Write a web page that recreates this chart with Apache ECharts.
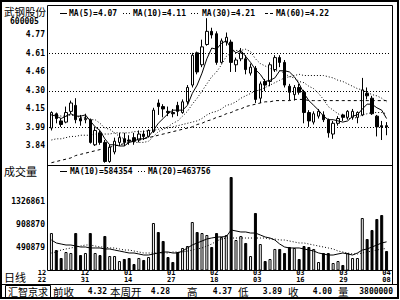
<!DOCTYPE html>
<html><head><meta charset="utf-8">
<script src="https://cdn.jsdelivr.net/npm/echarts@6/dist/echarts.min.js"></script>
<style>html,body{margin:0;padding:0;background:#fff}#c{width:400px;height:300px}</style>
</head><body><div id="c"></div>
<script>
const stockName = '武钢股份';
const stockCode = '600005';
const dateLabels = ['12\n22','12\n31','01\n14','01\n27','02\n18','03\n03','03\n16','03\n29','04\n08'];
const priceTicks = ['3.84','3.99','4.15','4.30','4.46','4.61','4.77'];
const priceGridTicks = [1, 3, 5];
const volTicks = ['490879','908870','1326861'];

const opens  = [3.99,4.11,4.05,4.04,4.13,4.18,4.07,4.06,4.06,3.85,3.95,3.87,3.71,3.79,3.87,3.90,3.89,3.91,3.89,3.94,3.92,3.96,4.20,4.17,4.13,4.12,4.18,4.12,4.21,4.35,4.62,4.52,4.69,4.80,4.78,4.54,4.71,4.71,4.52,4.57,4.57,4.45,4.49,4.24,4.38,4.38,4.48,4.58,4.54,4.34,4.27,4.33,4.29,4.12,4.04,4.09,4.10,4.06,3.94,4.03,4.10,4.08,4.08,4.08,4.10,4.28,4.24,4.09,4.01,4.01];
const closes = [4.12,4.07,4.02,4.12,4.20,4.06,4.05,4.07,3.87,3.97,3.87,3.71,3.83,3.88,3.91,3.87,3.88,3.88,3.94,3.92,3.97,4.14,4.17,4.15,4.12,4.11,4.13,4.21,4.33,4.60,4.46,4.67,4.80,4.77,4.54,4.72,4.75,4.54,4.56,4.62,4.48,4.50,4.23,4.36,4.35,4.52,4.58,4.54,4.35,4.29,4.33,4.29,4.12,4.05,4.11,4.13,4.06,3.95,4.03,4.07,4.08,4.13,4.13,4.12,4.31,4.26,4.11,4.00,4.00,4.00];
const highs  = [4.13,4.12,4.07,4.17,4.22,4.24,4.10,4.11,4.07,3.99,3.97,3.89,3.85,3.91,3.95,3.95,3.93,3.95,3.97,3.97,3.98,4.16,4.23,4.19,4.17,4.15,4.21,4.23,4.35,4.62,4.63,4.73,4.91,4.83,4.80,4.74,4.79,4.73,4.58,4.66,4.60,4.53,4.51,4.38,4.40,4.54,4.60,4.60,4.56,4.36,4.35,4.36,4.31,4.14,4.13,4.15,4.13,4.07,4.05,4.09,4.11,4.14,4.15,4.13,4.41,4.33,4.26,4.10,4.05,4.04];
const lows   = [3.97,4.03,4.00,4.03,4.11,4.03,4.01,4.03,3.86,3.84,3.85,3.70,3.70,3.77,3.84,3.84,3.85,3.85,3.87,3.89,3.91,3.95,4.10,4.08,4.09,4.08,4.09,4.11,4.19,4.33,4.44,4.50,4.68,4.74,4.52,4.53,4.68,4.46,4.46,4.55,4.44,4.43,4.20,4.20,4.30,4.34,4.46,4.50,4.33,4.22,4.22,4.27,4.03,4.00,4.02,4.07,4.04,3.91,3.90,4.01,4.05,4.06,4.06,4.03,4.09,4.23,4.10,3.92,3.89,3.93];

const ma5  = [4.10,4.09,4.07,4.09,4.11,4.09,4.09,4.10,4.05,4.00,3.97,3.90,3.85,3.85,3.84,3.84,3.87,3.88,3.90,3.90,3.92,3.97,4.03,4.07,4.11,4.14,4.14,4.14,4.18,4.28,4.35,4.45,4.57,4.66,4.65,4.70,4.72,4.66,4.62,4.64,4.59,4.54,4.48,4.44,4.38,4.39,4.41,4.47,4.47,4.46,4.42,4.36,4.28,4.22,4.18,4.14,4.09,4.06,4.06,4.05,4.04,4.05,4.09,4.10,4.15,4.19,4.19,4.16,4.14,4.07];
const ma10 = [4.10,4.10,4.09,4.09,4.10,4.09,4.08,4.08,4.06,4.06,4.03,3.99,3.98,3.95,3.92,3.90,3.89,3.87,3.87,3.87,3.88,3.92,3.96,3.98,4.00,4.03,4.05,4.09,4.13,4.19,4.24,4.30,4.36,4.42,4.46,4.52,4.59,4.62,4.64,4.64,4.65,4.63,4.57,4.53,4.51,4.49,4.47,4.47,4.45,4.42,4.41,4.38,4.37,4.34,4.32,4.28,4.23,4.17,4.14,4.11,4.09,4.07,4.07,4.08,4.10,4.11,4.12,4.12,4.12,4.11];
const ma30 = [3.89,3.90,3.90,3.91,3.92,3.92,3.93,3.93,3.93,3.94,3.94,3.94,3.94,3.95,3.95,3.95,3.95,3.96,3.96,3.96,3.97,3.97,3.98,3.99,3.99,4.00,4.01,4.02,4.03,4.04,4.05,4.07,4.10,4.12,4.13,4.15,4.18,4.19,4.21,4.24,4.26,4.28,4.30,4.31,4.33,4.35,4.37,4.39,4.41,4.42,4.43,4.44,4.43,4.43,4.43,4.43,4.43,4.42,4.41,4.39,4.38,4.36,4.34,4.32,4.31,4.29,4.27,4.26,4.24,4.21];
const ma60 = [3.70,3.71,3.72,3.73,3.74,3.76,3.77,3.78,3.79,3.80,3.81,3.82,3.83,3.84,3.85,3.86,3.87,3.88,3.89,3.90,3.91,3.92,3.93,3.94,3.95,3.96,3.97,3.98,3.99,4.00,4.02,4.03,4.05,4.06,4.08,4.09,4.11,4.12,4.14,4.15,4.17,4.18,4.19,4.20,4.21,4.21,4.22,4.22,4.22,4.22,4.23,4.23,4.23,4.22,4.22,4.22,4.22,4.22,4.22,4.22,4.22,4.22,4.22,4.22,4.22,4.22,4.22,4.22,4.22,4.22];

const volumes = [745000,436000,291000,400000,382000,745000,345000,382000,745000,382000,345000,691000,327000,327000,236000,273000,291000,182000,291000,255000,309000,927000,763000,600000,309000,218000,400000,473000,509000,945000,763000,745000,709000,491000,745000,673000,709000,1763000,618000,691000,564000,327000,1109000,545000,236000,273000,455000,455000,382000,491000,473000,273000,509000,491000,455000,218000,382000,382000,200000,236000,164000,382000,291000,291000,1018000,636000,800000,1000000,1072000,418000];
const volMa10 = [618000,564000,545000,527000,527000,509000,491000,491000,473000,473000,473000,455000,455000,436000,418000,400000,382000,382000,364000,345000,345000,364000,382000,400000,400000,382000,382000,418000,473000,527000,564000,600000,636000,655000,670000,676000,680000,800000,782000,764000,764000,745000,745000,709000,673000,654000,618000,545000,491000,473000,473000,473000,455000,436000,418000,382000,364000,345000,345000,364000,382000,364000,345000,382000,436000,455000,491000,527000,564000,584354];
const volMa20 = [382000,400000,436000,455000,473000,491000,509000,527000,527000,509000,491000,491000,473000,473000,455000,436000,436000,418000,400000,382000,382000,382000,382000,382000,382000,400000,400000,400000,418000,436000,455000,473000,509000,545000,600000,636000,654000,654000,654000,654000,654000,654000,654000,654000,654000,636000,636000,618000,618000,600000,582000,564000,564000,545000,527000,509000,491000,473000,455000,418000,400000,382000,364000,364000,382000,400000,418000,436000,455000,463756];

const priceLegend = [['MA(5)','4.07'],['MA(10)','4.11'],['MA(30)','4.21'],['MA(60)','4.22']];
const volLegend = [['MA(10)','584354'],['MA(20)','463756']];
const panelTitles = ['成交量','日线'];
const brandText = '汇智京求';
const statusLabels = ['前收','本周开','高','低','收','量'];
const statusValues = ['4.32','4.28','4.37','3.89','4.00','3800000'];

// ---- layout / style ----
const priceMin = 3.685, priceMax = 4.92, priceStep = 0.155;
const volMin = 72888, volStep = 417991, volMax = 72888 + 4.5 * 417991;
const MONO = '"DejaVu Sans Mono", monospace';
const CJK = '"Noto Sans CJK SC", sans-serif';
const monoFont = 'bold 8px ' + MONO;
const cjkFont = '10.5px ' + CJK;

const idx = closes.map((_, i) => i);
const candleData = opens.map((o, i) => [o, closes[i], lows[i], highs[i]]);
const volData = volumes.map((v, i) => closes[i] >= opens[i]
  ? {value: v, itemStyle: {color: '#fff', borderColor: '#000', borderWidth: 1}}
  : {value: v, itemStyle: {color: '#000', borderColor: '#000', borderWidth: 1}});

function T(text, x, y, font, align) {
  return {type: 'text', x: x, y: y, silent: true, z: 100,
    style: {text: text, font: font, fill: '#000', align: align || 'left', verticalAlign: 'middle',
            textAlign: align || 'left', textVerticalAlign: 'middle'}};
}
function L(x1, y1, x2, y2, dash, w) {
  return {type: 'line', silent: true, z: 100, shape: {x1: x1, y1: y1, x2: x2, y2: y2},
    style: {stroke: '#000', lineWidth: w || 1, lineDash: dash || null}};
}

const g = [];
// frames
g.push({type: 'rect', silent: true, z: 100, shape: {x: 1, y: 1, width: 397, height: 297}, style: {fill: null, stroke: '#000', lineWidth: 2}});
g.push(L(47.5, 5.5, 392.5, 5.5));
g.push(L(392.5, 5.5, 392.5, 284.5));
g.push(L(47.5, 5.5, 47.5, 270.5));
g.push(L(47.5, 165.5, 392.5, 165.5));
g.push(L(47.5, 270.5, 392.5, 270.5));
g.push(L(1, 284.5, 398, 284.5));
g.push({type: 'rect', silent: true, z: 100, shape: {x: 5.5, y: 285.5, width: 45, height: 12}, style: {fill: null, stroke: '#000', lineWidth: 1}});
// left titles
g.push(T(stockName, 4, 11, '10.5px ' + CJK));
g.push(T(stockCode, 10, 21.5, monoFont));
g.push(T(panelTitles[0], 4, 170.5, '11px ' + CJK));
g.push(T(panelTitles[1], 4, 276.5, '11px ' + CJK));
// price legend
const plX = [69, 133, 202, 276];
const plMark = [[60, 67, null], [123, 131, [1, 2]], [191, 200, [1, 2]], [265, 274, [3, 2]]];
priceLegend.forEach((p, k) => {
  g.push(L(plMark[k][0], 13.5, plMark[k][1], 13.5, plMark[k][2]));
  g.push(T(p[0] + '=' + p[1], plX[k], 13.5, monoFont));
});
// volume legend
const vlX = [70, 148];
const vlMark = [[60, 67, null], [138, 147, [1, 2]]];
volLegend.forEach((p, k) => {
  g.push(L(vlMark[k][0], 171.5, vlMark[k][1], 171.5, vlMark[k][2]));
  g.push(T(p[0] + '=' + p[1], vlX[k], 171.5, monoFont));
});
// status bar
g.push(T(brandText, 28, 291.5, '10px ' + CJK, 'center'));
const slX = [53, 110, 187, 238, 288, 338];
const svX = [107, 170, 232, 282, 332, 393];
statusLabels.forEach((s, k) => {
  g.push(T(s, slX[k], 291.5, cjkFont));
  g.push(T(statusValues[k], svX[k], 291.5, monoFont, 'right'));
});

const axisLabelStyle = {color: '#000', fontFamily: MONO, fontWeight: 'bold', fontSize: 8, margin: 4};

const option = {
  animation: false,
  backgroundColor: '#fff',
  grid: [
    {left: 49, right: 11, top: 17, bottom: 135.5, outerBoundsMode: 'none', containLabel: false},
    {left: 49, right: 11, top: 166.5, bottom: 30, outerBoundsMode: 'none', containLabel: false},
    {left: 42, right: 13.5, top: 267, height: 1, outerBoundsMode: 'none', containLabel: false}
  ],
  xAxis: [
    {type: 'category', gridIndex: 0, data: idx, boundaryGap: true, show: false},
    {type: 'category', gridIndex: 1, data: idx, boundaryGap: true, show: false},
    {type: 'category', gridIndex: 2, data: dateLabels, boundaryGap: false,
     axisLine: {show: false}, axisTick: {show: false}, splitLine: {show: false},
     axisLabel: {interval: 0, margin: 1, color: '#000', fontFamily: MONO, fontWeight: 'bold', fontSize: 7, lineHeight: 7}}
  ],
  yAxis: [
    {type: 'value', gridIndex: 0, min: priceMin, max: priceMax, interval: priceStep, scale: true,
     axisLine: {show: false}, axisTick: {show: false}, splitLine: {show: false},
     axisLabel: Object.assign({}, axisLabelStyle, {showMinLabel: true, showMaxLabel: true,
       formatter: function (v) {
         const k = Math.round((v - priceMin) / priceStep) - 1;
         if (k < 0 || k >= priceTicks.length) return '';
         if (Math.abs(v - (priceMin + priceStep * (k + 1))) > 0.02) return '';
         return priceTicks[k];
       }})},
    {type: 'value', gridIndex: 1, min: volMin, max: volMax, interval: volStep,
     axisLine: {show: false}, axisTick: {show: false}, splitLine: {show: false},
     axisLabel: Object.assign({}, axisLabelStyle, {
       formatter: function (v) {
         const k = Math.round((v - volMin) / volStep) - 1;
         if (k < 0 || k >= volTicks.length) return '';
         if (Math.abs(v - (volMin + volStep * (k + 1))) > 1000) return '';
         return volTicks[k];
       }})},
    {type: 'value', gridIndex: 2, show: false}
  ],
  series: [
    {type: 'candlestick', xAxisIndex: 0, yAxisIndex: 0, data: candleData, barWidth: 3, silent: true,
     itemStyle: {color: '#fff', color0: '#000', borderColor: '#000', borderColor0: '#000', borderColorDoji: '#000', borderWidth: 1},
     markLine: {silent: true, symbol: ['none', 'none'], label: {show: false}, animation: false,
       lineStyle: {color: '#000', width: 1, type: [1, 2]},
       data: priceGridTicks.map(k => ({yAxis: priceMin + priceStep * (k + 1)}))}},
    {type: 'line', xAxisIndex: 0, yAxisIndex: 0, data: ma5, symbol: 'none', silent: true, lineStyle: {color: '#000', width: 1}},
    {type: 'line', xAxisIndex: 0, yAxisIndex: 0, data: ma10, symbol: 'none', silent: true, lineStyle: {color: '#000', width: 1, type: [1, 2]}},
    {type: 'line', xAxisIndex: 0, yAxisIndex: 0, data: ma30, symbol: 'none', silent: true, lineStyle: {color: '#000', width: 1, type: [1, 2]}},
    {type: 'line', xAxisIndex: 0, yAxisIndex: 0, data: ma60, symbol: 'none', silent: true, lineStyle: {color: '#000', width: 1, type: [3, 3]}},
    {type: 'bar', xAxisIndex: 1, yAxisIndex: 1, data: volData, barWidth: 3, silent: true},
    {type: 'line', xAxisIndex: 1, yAxisIndex: 1, data: volMa10, symbol: 'none', silent: true, lineStyle: {color: '#000', width: 1}},
    {type: 'line', xAxisIndex: 1, yAxisIndex: 1, data: volMa20, symbol: 'none', silent: true, lineStyle: {color: '#000', width: 1, type: [1, 2]}}
  ],
  graphic: {elements: g}
};

const chart = echarts.init(document.getElementById('c'), null, {renderer: 'svg', width: 400, height: 300});
chart.setOption(option);
</script>
</body></html>
